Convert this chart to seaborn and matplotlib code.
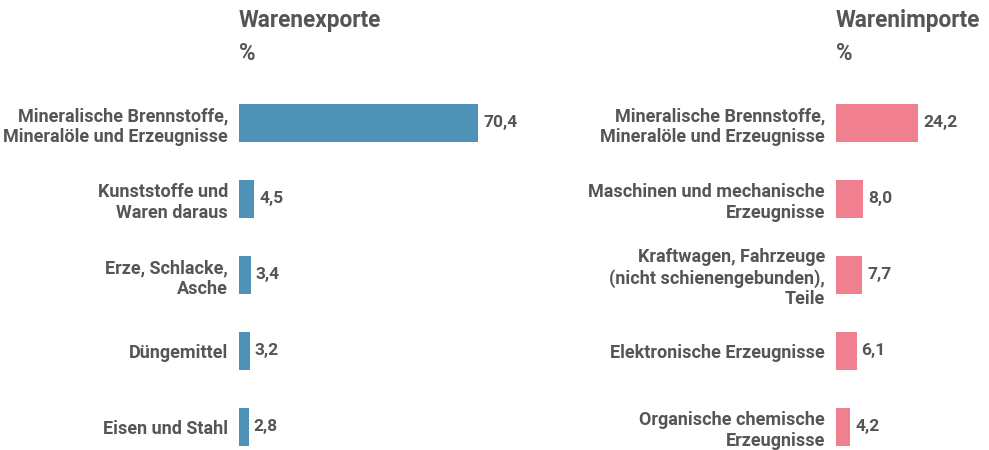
import matplotlib
matplotlib.use("Agg")
import matplotlib.pyplot as plt
import seaborn as sns
import pandas as pd

export_categories = [
    "Mineralische Brennstoffe,\nMineralöle und Erzeugnisse",
    "Kunststoffe und\nWaren daraus",
    "Erze, Schlacke,\nAsche",
    "Düngemittel",
    "Eisen und Stahl",
]
export_values = [70.4, 4.5, 3.4, 3.2, 2.8]

import_categories = [
    "Mineralische Brennstoffe,\nMineralöle und Erzeugnisse",
    "Maschinen und mechanische\nErzeugnisse",
    "Kraftwagen, Fahrzeuge\n(nicht schienengebunden),\nTeile",
    "Elektronische Erzeugnisse",
    "Organische chemische\nErzeugnisse",
]
import_values = [24.2, 8.0, 7.7, 6.1, 4.2]

titles = ["Warenexporte", "Warenimporte"]
unit = "%"

sns.set_theme(style="white")
plt.rcParams["font.family"] = ["Roboto", "DejaVu Sans"]

TXT = "#555555"
BLUE = "#4e92b8"
PINK = "#f07f8f"

W, H = 989, 450
fig = plt.figure(figsize=(W / 100, H / 100), dpi=100)

px = 3.4  # pixels per percent
def make_ax(left_px, xmax):
    top_px, bottom_px = 85, 449.8
    return fig.add_axes([left_px / W, 1 - bottom_px / H, xmax * px / W, (bottom_px - top_px) / H])

ax1 = make_ax(239, 75)
ax2 = make_ax(836, 40)

for ax, cats, vals, color, title, xmax in [
    (ax1, export_categories, export_values, BLUE, titles[0], 75),
    (ax2, import_categories, import_values, PINK, titles[1], 40),
]:
    df = pd.DataFrame({"cat": cats, "val": vals})
    sns.barplot(data=df, x="val", y="cat", orient="h", color=color, width=0.51,
                saturation=1, linewidth=0, ax=ax)
    ax.set_xlim(0, xmax)
    ax.set_ylim(4.3, -0.5)
    ax.set_xlabel("")
    ax.set_ylabel("")
    ax.set_xticks([])
    for s in ax.spines.values():
        s.set_visible(False)
    ax.tick_params(axis="y", length=0, pad=8)
    for lab in ax.get_yticklabels():
        lab.set_fontsize(13)
        lab.set_fontweight(600)
        lab.set_color(TXT)
        lab.set_horizontalalignment("right")
        lab.set_linespacing(1.18)
    for i, v in enumerate(vals):
        ax.annotate(f"{v:.1f}".replace(".", ","), xy=(v, i), xytext=(3.5, 0),
                    textcoords="offset points", va="center", ha="left",
                    fontsize=12.5, fontweight=600, color=TXT)
    pos = ax.get_position()
    fig.text(pos.x0, 1 - 21 / H, title, fontsize=16.3, fontweight="bold",
             color=TXT, ha="left", va="center")
    fig.text(pos.x0, 1 - 53 / H, unit, fontsize=16.3, fontweight="bold",
             color=TXT, ha="left", va="center")

fig.savefig("out.png", dpi=100)
